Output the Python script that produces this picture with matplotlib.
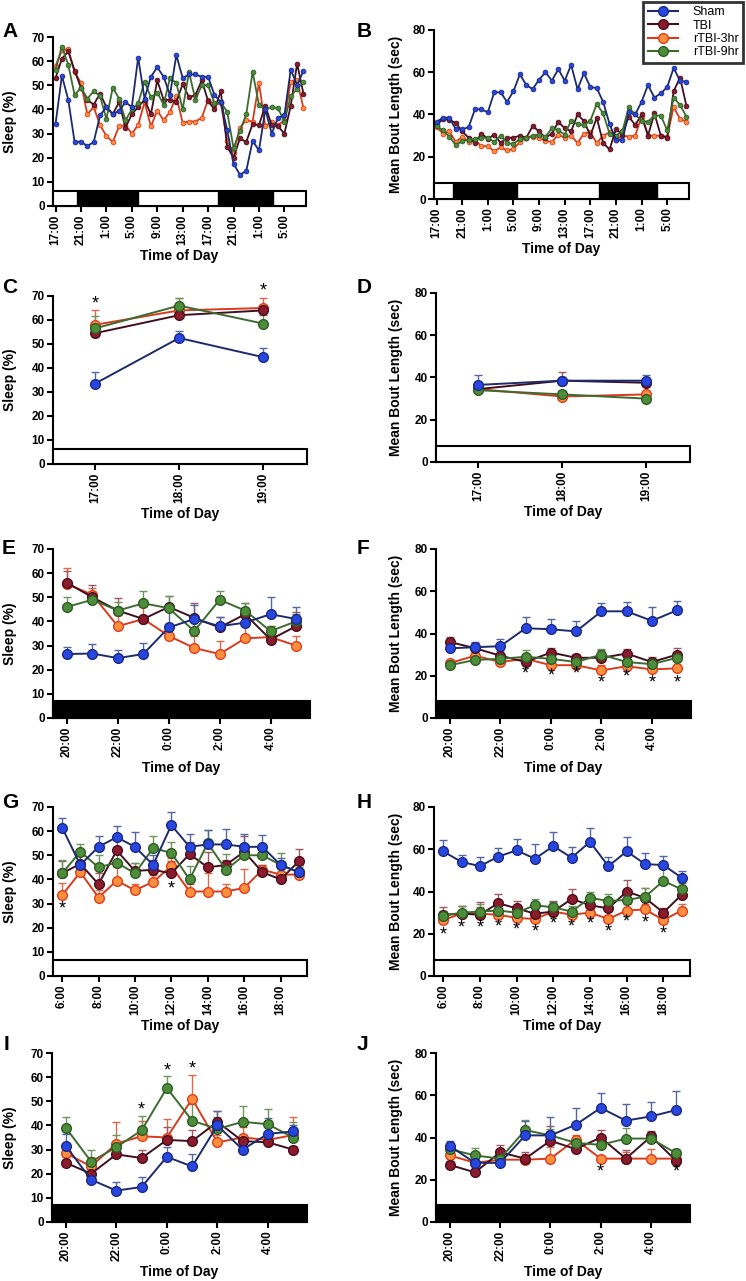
import matplotlib
matplotlib.use("Agg")
import matplotlib.pyplot as plt
import matplotlib.transforms as mtransforms
from matplotlib.patches import Rectangle
from matplotlib.lines import Line2D

plt.rcParams['font.family'] = ['Liberation Sans', 'DejaVu Sans']
plt.rcParams['font.weight'] = 'bold'

groups = ["Sham", "TBI", "rTBI-3hr", "rTBI-9hr"]
face = ['#2747e0', '#8a1a2c', '#fb8f3e', '#4d8c38']
edge = ['#1b2a82', '#4a0f1c', '#de3f1e', '#2f5c26']
line = ['#1d2b6b', '#3e1020', '#d83a1e', '#3d6b30']
errc = ['#56669e', '#9c5a66', '#e0684a', '#6e9760']

# ---- panel A / B : hourly, 17:00 day 1 -> 8:00 day 3 ----
hours_ab = list(range(40))
ab_ticks = list(range(0, 40, 4))
ab_labels = ["17:00", "21:00", "1:00", "5:00", "9:00", "13:00", "17:00", "21:00", "1:00", "5:00"]
a_dark = [(3.3, 12.9), (25.5, 34.2)]
b_dark = [(2.6, 12.6), (25.4, 34.4)]

a_sham = [34, 54, 44, 26.5, 26.7, 24.8, 26.5, 37.5, 41, 38, 39.5, 43, 41, 61.5, 44.5, 53.5, 57.5, 53.5, 46, 62.5,
          53, 54.5, 54.5, 53.5, 53.5, 46, 43, 31.5, 17.5, 13, 14.5, 27, 23, 40, 30, 36.5, 37.5, 56.5, 50, 56]
a_tbi = [53, 61, 64, 56, 49, 44, 42, 46.5, 41, 38, 43, 32.5, 38, 41, 44, 38, 52, 44, 44, 43,
         50.5, 45, 46, 52, 43.5, 40, 47.5, 24.5, 20, 28, 26.5, 34, 33.5, 41.5, 33.5, 33, 30, 41.5, 59, 46.5]
a_r3 = [58, 64.5, 65, 55.5, 51, 38, 41, 33.5, 29, 26.5, 33, 33.5, 30, 33.5, 43, 33, 39.5, 35.5, 39, 45.5,
        34.5, 35, 35, 36.5, 44, 42, 42.5, 27, 22, 32.5, 35.5, 35, 51, 33, 35, 33.5, 35.5, 51.5, 52, 40.5]
a_r9 = [56.5, 66, 58.5, 46, 49, 44.5, 47.5, 45.5, 36, 49, 44.5, 35.5, 40, 42.5, 51.5, 45, 47, 42, 53, 51,
        40, 55.5, 44, 50, 50, 42.5, 43, 39, 24, 31, 38, 55.5, 42, 40, 41, 40.5, 35, 45.5, 48.5, 51.5]

b_sham = [36.5, 38.5, 38.5, 33, 33, 34, 42.5, 42.5, 41, 50.5, 50.5, 46, 51, 59, 54, 52, 56.5, 60, 56, 61.5,
          56, 63.5, 52, 59.5, 53, 52.5, 46, 35.5, 28, 28, 41, 40, 46, 54, 48, 50, 53, 62, 56, 55.5]
b_tbi = [35, 38, 37.5, 36, 32, 29, 26.5, 31, 28.5, 30.5, 26.5, 29, 29, 30, 29, 34.5, 32, 29, 31, 36.5,
         33.5, 32, 40, 37, 30, 38.5, 26.5, 23.5, 33, 30.5, 39, 35, 40, 30, 40.5, 30, 29, 51, 57.5, 44]
b_r3 = [34, 31, 32, 27, 29.5, 27, 28, 25, 25, 22.5, 24.5, 23, 23.5, 27, 29, 29.5, 29, 27.5, 27, 30.5,
        29, 30, 26.5, 31, 31.5, 26.5, 30, 31.5, 28, 30, 29.5, 30, 39, 30, 30, 30, 29.5, 43.5, 38, 36.5]
b_r9 = [34.5, 32.5, 29.5, 25.5, 27.5, 28, 28.5, 29, 29, 27, 30, 26.5, 26, 28.5, 29, 30, 30.5, 29.5, 33.5, 32.5,
        30.5, 37, 35.5, 35, 37, 45, 40.5, 31, 30, 32, 43.5, 40, 37, 36.5, 39.5, 39.5, 32.5, 48, 44.5, 39]

# ---- panel C / D : 17:00 - 19:00 ----
cd_labels = ["17:00", "18:00", "19:00"]
c_mean = [[33.5, 52.5, 44.5], [54.5, 62, 64], [58, 64, 65], [56.5, 66, 58.5]]
c_sem = [[5, 3, 4], [1.5, 1.5, 1.5], [6, 5, 4], [5, 3, 3.5]]
c_stars = [(0, 66.5), (2, 72)]
d_mean = [[36.5, 38.5, 38.5], [34.5, 38.5, 37.5], [34.5, 31, 32], [34, 32, 30]]
d_sem = [[4.5, 1, 2.5], [0.5, 4, 2], [0.5, 1, 4], [0.5, 1.5, 0.5]]

# ---- panel E / F / I / J : 20:00 - 5:00 ----
night_labels = ["20:00", "22:00", "0:00", "2:00", "4:00"]
e_mean = [[26.5, 26.7, 24.8, 26.5, 37.5, 41, 38, 39.5, 43, 41],
          [56, 50, 44.5, 41, 46, 41.5, 37.5, 43, 32.5, 38],
          [55.5, 51, 38, 41, 34, 29, 26.5, 33, 33.5, 30],
          [46, 49, 44.5, 47.5, 45.5, 36, 49, 44.5, 36, 40]]
e_sem = [[3, 4, 3.5, 4.5, 8, 6, 4, 2, 7, 5],
         [5, 5, 5, 1, 4.5, 6, 4.5, 4.5, 4.5, 6],
         [6.5, 3, 6.5, 5, 5, 5, 5.5, 5, 4.5, 4],
         [4, 3.5, 3.5, 5, 5, 4, 3.5, 3, 2, 3]]
f_mean = [[33, 33.5, 34, 42.5, 42, 41, 50.5, 50.5, 46, 51],
          [36, 33, 29.5, 26.5, 31, 28.5, 28.5, 30.5, 26.5, 30],
          [26, 29.5, 26.5, 28, 25, 25, 22.5, 24.5, 23, 23.5],
          [25, 27.5, 28, 29, 28, 26.5, 30, 26.5, 25.5, 28.5]]
f_sem = [[2, 2.5, 3.5, 5.5, 5, 5, 4, 4.5, 6.5, 4.5],
         [2.5, 2.5, 2, 2.5, 2, 2, 3.5, 2, 2.5, 3],
         [1.5, 1.5, 1.5, 2, 1.5, 2, 2.5, 1.5, 2, 1.5],
         [1.5, 1.5, 1.5, 3, 2.5, 2, 2.5, 4, 2.5, 2.5]]
f_stars = [(3, 20.8), (4, 20), (5, 20.8), (6, 16.8), (7, 19.4), (8, 16.5), (9, 16.8)]

i_mean = [[31.5, 17.5, 13, 14.5, 27, 23, 40, 30, 36.5, 37.5],
          [24.5, 20, 28, 26.5, 34, 33.5, 41.5, 33.5, 33, 30],
          [28.5, 23, 32.5, 35.5, 35, 51, 33, 35, 34, 36],
          [39, 25, 31, 38, 55.5, 42, 38.5, 41.5, 40.5, 35]]
i_sem = [[5, 1.5, 3.5, 4, 4, 5, 6, 3, 6.5, 2.5],
         [2.5, 2, 2, 3.5, 5.5, 4.5, 4.5, 2.5, 2, 1.5],
         [2.5, 4, 9, 6.5, 7.5, 10, 3, 4.5, 3, 7.5],
         [4.5, 5, 5, 6, 5, 7, 5, 6.5, 6.5, 6.5]]
i_stars = [(3, 46.5), (4, 62.7), (5, 63.4)]
j_mean = [[36, 28, 28, 41, 41, 46, 54, 48, 50, 53],
          [27, 23.5, 33, 30, 38.5, 34.5, 40, 30, 40.5, 29],
          [31.5, 28, 29.5, 29.5, 30, 39, 30, 30, 30, 30],
          [34.5, 31.5, 30, 43.5, 41, 37.5, 36.5, 39.5, 39.5, 32.5]]
j_sem = [[2.5, 2, 3, 7, 8.5, 8, 7, 8, 7, 9],
         [2, 1.5, 3.5, 3, 7, 2.5, 3.5, 4, 2.5, 2],
         [2, 3, 2.5, 2.5, 5.5, 2, 1, 3, 4.5, 1],
         [2.5, 3.5, 3, 5, 3, 2.5, 2.5, 5, 3, 2]]
j_stars = [(6, 23.5), (9, 23.5)]

# ---- panel G / H : 6:00 - 19:00 ----
day_labels = ["6:00", "8:00", "10:00", "12:00", "14:00", "16:00", "18:00"]
g_mean = [[61.5, 46, 53.5, 57.5, 53.5, 46, 62.5, 53.5, 54.5, 54.5, 53.5, 53.5, 46, 43],
          [42.5, 46.5, 38, 52, 43.5, 44, 42.5, 50.5, 45, 46, 51.5, 43, 40, 47.5],
          [33.5, 43, 32.5, 39.5, 35.5, 39, 45.5, 35, 35, 35, 36.5, 44, 42, 42],
          [42.5, 51.5, 45, 47, 42.5, 53, 51, 40, 55, 44, 50, 50, 46, 43]]
g_sem = [[4, 4, 4.5, 4.5, 6, 4, 5.5, 5.5, 6, 6.5, 5.5, 5, 3, 3],
         [5, 4.5, 4.5, 5, 3.5, 4, 5, 5, 6.5, 2, 6.5, 3, 3, 5],
         [5, 2, 3, 5.5, 2.5, 3, 3.5, 3, 7.5, 3, 8, 2, 3, 2],
         [5.5, 3, 5, 5, 4.5, 5, 4.5, 5.5, 5.5, 6.5, 3, 3, 5, 2]]
g_stars = [(0, 27.9), (6, 36.2)]
h_mean = [[59, 54, 52, 56.5, 59.5, 55.5, 61.5, 56, 63.5, 52, 59, 53, 52.5, 46.5],
          [29, 29.5, 29, 34.5, 32, 29.5, 30.5, 36.5, 33.5, 32, 40, 37, 30, 38.5],
          [26.5, 29.5, 29.5, 29, 27.5, 27, 30.5, 29, 30, 27, 31, 31.5, 26.5, 31],
          [28.5, 30, 30.5, 31, 30, 33.5, 32.5, 30.5, 37, 35.5, 36, 37.5, 45, 41]]
h_sem = [[5.5, 3.5, 4.5, 4, 5.5, 7, 6.5, 5, 6.5, 4.5, 7, 5, 4.5, 3],
         [3.5, 3.5, 6, 4.5, 3.5, 2.5, 5, 4.5, 4.5, 3, 5.5, 4.5, 2, 2.5],
         [2, 3.5, 3, 3, 2.5, 2, 4.5, 2.5, 3, 2, 3, 2.5, 1.5, 3],
         [2.5, 3, 3.5, 4, 3, 3, 2.5, 2.5, 3, 3.5, 3.5, 4, 6, 3]]
h_stars = [(0, 19.6), (1, 22.7), (2, 22.7), (3, 23.2), (4, 21.9), (5, 20.8), (6, 24.8),
           (7, 23.2), (8, 24.4), (9, 20.8), (10, 25.5), (11, 25.2), (12, 20.0)]

W, H = 746, 1281
fig = plt.figure(figsize=(W / 100, H / 100), dpi=100)


def box(l, r, t, b):
    return fig.add_axes([l / W, 1 - b / H, (r - l) / W, (b - t) / H])


def style(ax, l, r, t, b, ymax, ystep, ylabel, ylab_x):
    ax.set_ylim(0, ymax)
    ax.set_yticks(range(0, ymax + 1, ystep))
    for s in ['top', 'right']:
        ax.spines[s].set_visible(False)
    for s in ['left', 'bottom']:
        ax.spines[s].set_linewidth(1.5)
    ax.tick_params(width=1.5, length=4, labelsize=8.5, pad=2)
    ax.tick_params(axis='x', labelrotation=90)
    ax.set_ylabel(ylabel, fontsize=10, fontweight='bold')
    # label anchor is the right edge of the rotated text, centre is ~7 px left of it
    ax.yaxis.set_label_coords((ylab_x + 7 - l) / (r - l), 0.5)
    ax.set_xlabel('Time of Day', fontsize=10, fontweight='bold')
    ax.xaxis.set_label_coords(0.5, -43 / (b - t))


def light_bar(ax, h, dark=None, all_dark=False):
    trans = mtransforms.blended_transform_factory(ax.transAxes, ax.transData)
    ax.add_patch(Rectangle((0, 0), 1, h, transform=trans, facecolor='black' if all_dark else 'white',
                           edgecolor='black', lw=1.5, clip_on=False, zorder=3))
    for a, b in dark or []:
        ax.add_patch(Rectangle((a, 0), b - a, h, facecolor='black', edgecolor='black', lw=1, zorder=3))


def hourly(ax, series):
    for i in [2, 1, 3, 0]:
        ax.plot(hours_ab, series[i], '-o', color=line[i], mfc=face[i], mec=edge[i], ms=3.4, mew=0.6, lw=1.3,
                zorder=4)


def with_err(ax, means, sems):
    for i in [2, 1, 3, 0]:
        x = list(range(len(means[i])))
        ax.errorbar(x, means[i], yerr=[[0] * len(x), sems[i]], fmt='-o', color=line[i], mfc=face[i],
                    mec=edge[i], ms=7, mew=1, lw=1.4, ecolor=errc[i], elinewidth=1, capsize=3, capthick=1,
                    zorder=4)


def stars(ax, pts):
    for x, y in pts:
        ax.text(x, y, '*', ha='center', va='center', fontsize=13, fontweight='normal', zorder=6)


# A
ax = box(53, 306, 37, 206)
hourly(ax, [a_sham, a_tbi, a_r3, a_r9])
ax.set_xlim(-0.4, 39.4)
ax.set_xticks(ab_ticks)
ax.set_xticklabels(ab_labels)
style(ax, 53, 306, 37, 206, 70, 10, 'Sleep (%)', 10)
light_bar(ax, 6.2, a_dark)

# B
ax = box(434, 689, 30, 199)
hourly(ax, [b_sham, b_tbi, b_r3, b_r9])
ax.set_xlim(-0.4, 39.4)
ax.set_xticks(ab_ticks)
ax.set_xticklabels(ab_labels)
style(ax, 434, 689, 30, 199, 80, 20, 'Mean Bout Length (sec)', 396)
light_bar(ax, 7.5, b_dark)

# C
ax = box(53, 307, 296, 464)
with_err(ax, c_mean, c_sem)
ax.set_xlim(-0.5, 2.52)
ax.set_xticks([0, 1, 2])
ax.set_xticklabels(cd_labels)
style(ax, 53, 307, 296, 464, 70, 10, 'Sleep (%)', 10)
light_bar(ax, 6.3)
stars(ax, c_stars)

# D
ax = box(436, 690, 293, 462)
with_err(ax, d_mean, d_sem)
ax.set_xlim(-0.5, 2.52)
ax.set_xticks([0, 1, 2])
ax.set_xticklabels(cd_labels)
style(ax, 436, 690, 293, 462, 80, 20, 'Mean Bout Length (sec)', 396)
light_bar(ax, 7.6)

# E
ax = box(53, 310, 549, 718)
with_err(ax, e_mean, e_sem)
ax.set_xlim(-0.55, 9.55)
ax.set_xticks(range(0, 10, 2))
ax.set_xticklabels(night_labels)
style(ax, 53, 310, 549, 718, 70, 10, 'Sleep (%)', 10)
light_bar(ax, 7, all_dark=True)

# F
ax = box(436, 691, 549, 718)
with_err(ax, f_mean, f_sem)
ax.set_xlim(-0.55, 9.55)
ax.set_xticks(range(0, 10, 2))
ax.set_xticklabels(night_labels)
style(ax, 436, 691, 549, 718, 80, 20, 'Mean Bout Length (sec)', 396)
light_bar(ax, 8.2, all_dark=True)
stars(ax, f_stars)

# G
ax = box(53, 307, 807, 976)
with_err(ax, g_mean, g_sem)
ax.set_xlim(-0.5, 13.45)
ax.set_xticks(range(0, 14, 2))
ax.set_xticklabels(day_labels)
style(ax, 53, 307, 807, 976, 70, 10, 'Sleep (%)', 10)
light_bar(ax, 6.5)
stars(ax, g_stars)

# H
ax = box(434, 690, 807, 976)
with_err(ax, h_mean, h_sem)
ax.set_xlim(-0.5, 13.45)
ax.set_xticks(range(0, 14, 2))
ax.set_xticklabels(day_labels)
style(ax, 434, 690, 807, 976, 80, 20, 'Mean Bout Length (sec)', 396)
light_bar(ax, 7.7)
stars(ax, h_stars)

# I
ax = box(52, 307, 1053, 1222)
with_err(ax, i_mean, i_sem)
ax.set_xlim(-0.55, 9.55)
ax.set_xticks(range(0, 10, 2))
ax.set_xticklabels(night_labels)
style(ax, 52, 307, 1053, 1222, 70, 10, 'Sleep (%)', 10)
light_bar(ax, 7.2, all_dark=True)
stars(ax, i_stars)

# J
ax = box(436, 690, 1053, 1222)
with_err(ax, j_mean, j_sem)
ax.set_xlim(-0.55, 9.55)
ax.set_xticks(range(0, 10, 2))
ax.set_xticklabels(night_labels)
style(ax, 436, 690, 1053, 1222, 80, 20, 'Mean Bout Length (sec)', 396)
light_bar(ax, 8.2, all_dark=True)
stars(ax, j_stars)

# panel letters
for letter, x, y in [('A', 2, 22), ('B', 357, 22), ('C', 2, 278), ('D', 357, 278), ('E', 2, 539),
                     ('F', 357, 539), ('G', 2, 793), ('H', 357, 793), ('I', 4, 1035), ('J', 357, 1035)]:
    fig.text(x / W, 1 - y / H, letter, fontsize=15, fontweight='bold', va='top', ha='left')

handles = [Line2D([], [], color=line[i], marker='o', mfc=face[i], mec=edge[i], ms=7, lw=1.5) for i in range(4)]
leg = fig.legend(handles, groups, loc='upper right', bbox_to_anchor=(743 / W, 1 - 2 / H), frameon=True,
                 fancybox=False, edgecolor='black', handlelength=2.4, borderpad=0.35, borderaxespad=0,
                 labelspacing=0.1, handletextpad=1.2, prop={'weight': 'normal', 'size': 9})
leg.get_frame().set_linewidth(2)

fig.savefig('out.png', dpi=100)
